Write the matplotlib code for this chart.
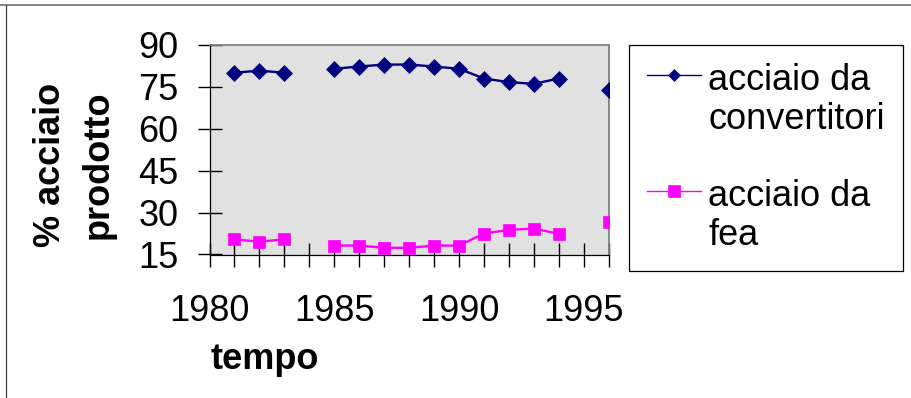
import numpy as np
import matplotlib
matplotlib.use("Agg")
import matplotlib.pyplot as plt
from matplotlib.lines import Line2D

plt.rcParams['font.family'] = ['Liberation Sans', 'DejaVu Sans']

# ---- data ----
years = [1981, 1982, 1983, 1984, 1985, 1986, 1987, 1988, 1989, 1990,
         1991, 1992, 1993, 1994, 1995, 1996]
convertitori = [80.1, 80.8, 80.1, np.nan, 81.5, 82.3, 83.0, 83.0, 82.3, 81.5,
                78.0, 76.7, 76.1, 78.0, np.nan, 73.9]
fea = [20.4, 19.6, 20.4, np.nan, 18.2, 18.2, 17.4, 17.4, 18.2, 18.2,
       22.5, 23.8, 24.3, 22.4, np.nan, 26.5]
series_labels = ["acciaio da\nconvertitori", "acciaio da\nfea"]
x_tick_labels = ["1980", "1985", "1990", "1995"]
x_major = [1980, 1985, 1990, 1995]
y_ticks = [15, 30, 45, 60, 75, 90]
x_label = "tempo"
y_label = "% acciaio\nprodotto"

W, H = 911, 398
fig = plt.figure(figsize=(W / 100, H / 100), dpi=100)
fig.patch.set_facecolor('white')

L, R, T, B = 209.5, 608.7, 45, 254.5
ax = fig.add_axes([L / W, 1 - B / H, (R - L) / W, (B - T) / H])
ax.set_facecolor('#e1e1e1')

ax.plot(years, convertitori, color='#000080', marker='D', markersize=8.0,
        markeredgewidth=0.5, linewidth=1.7, label=series_labels[0], zorder=3)
ax.plot(years, fea, color='#ff00ff', marker='s', markersize=9.0,
        markeredgewidth=0.5, linewidth=1.7, label=series_labels[1], zorder=3)

ax.set_xlim(1980, 1996)
ax.set_ylim(15, 90)
ax.set_yticks(y_ticks)
ax.set_xticks(x_major)
ax.set_xticklabels(x_tick_labels)
ax.set_xticks(range(1980, 1997), minor=True)

ax.tick_params(axis='both', which='both', direction='inout', length=17,
               width=1.0, color='black', labelsize=26)
ax.tick_params(axis='x', which='both', pad=20)
ax.tick_params(axis='y', which='both', pad=14)

for s in ['top', 'right']:
    ax.spines[s].set_color('#808080')
    ax.spines[s].set_linewidth(1.3)
for s in ['left', 'bottom']:
    ax.spines[s].set_color('#000000')
    ax.spines[s].set_linewidth(0.9)

ax.set_xlabel(x_label, fontsize=26, fontweight='bold')
ax.xaxis.set_label_coords((265 - L) / (R - L), (B - 342) / (B - T))
ax.set_ylabel(y_label, fontsize=26, fontweight='bold', linespacing=1.46)
ax.yaxis.set_label_coords((115.5 - L) / (R - L), (B - 165) / (B - T))

leg = ax.legend(loc='upper left', bbox_to_anchor=((629 - L) / (R - L), 1.0),
                borderaxespad=0, fontsize=26, frameon=True, fancybox=False,
                edgecolor='black', framealpha=1, handlelength=1.5,
                handletextpad=0.2, borderpad=0.5, labelspacing=1.15)
leg.get_frame().set_linewidth(0.9)
for t in leg.get_texts():
    t.set_linespacing(1.16)
for h in leg.legend_handles:
    h.set_ydata(np.asarray(h.get_ydata()) + 19)
    h.set_linewidth(1.0)
leg.legend_handles[0].set_markersize(6.0)
leg.legend_handles[1].set_markersize(8.5)

# outer border lines of the chart area
fig.add_artist(Line2D([0, 1], [1 - 4.5 / H, 1 - 4.5 / H], transform=fig.transFigure,
                      color='#707070', linewidth=1.2))
fig.add_artist(Line2D([6 / W, 6 / W], [0, 1 - 4.5 / H], transform=fig.transFigure,
                      color='#404040', linewidth=0.9))

fig.savefig('out.png', dpi=100)
